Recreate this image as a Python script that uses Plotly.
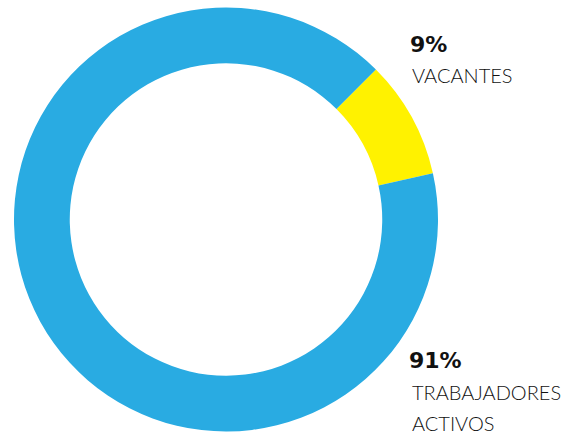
import plotly.graph_objects as go

labels = ["VACANTES", "TRABAJADORES ACTIVOS"]
values = [9, 91]
pct_labels = ["9%", "91%"]
name_lines = [["VACANTES"], ["TRABAJADORES", "ACTIVOS"]]
colors = ["#FFF200", "#29ABE2"]

W, H = 571, 434
cx, cy, R = 226, 219.5, 212

fig = go.Figure(go.Pie(
    labels=labels, values=values, sort=False, direction="clockwise",
    rotation=45, hole=0.737, textinfo="none", hoverinfo="label+percent",
    marker=dict(colors=colors, line=dict(width=0)),
    domain=dict(x=[(cx - R) / W, (cx + R) / W], y=[1 - (cy + R) / H, 1 - (cy - R) / H]),
    showlegend=False,
))

txt = "#111111"
pct_font = dict(family="DejaVu Sans", size=22, color=txt, weight=700)
lbl_font = dict(family="Lato", size=20, color=txt, weight=300)
ann = []
# 9% VACANTES
ann.append(dict(x=408 / W, y=1 - 44 / H, text=pct_labels[0], font=pct_font))
ann.append(dict(x=410 / W, y=1 - 75 / H, text=name_lines[0][0], font=lbl_font))
# 91% TRABAJADORES ACTIVOS
ann.append(dict(x=407 / W, y=1 - 360 / H, text=pct_labels[1], font=pct_font))
ann.append(dict(x=410 / W, y=1 - 392 / H, text=name_lines[1][0], font=lbl_font))
ann.append(dict(x=410 / W, y=1 - 423 / H, text=name_lines[1][1], font=lbl_font))
for a in ann:
    a.update(xref="paper", yref="paper", xanchor="left", yanchor="middle", showarrow=False)

fig.update_layout(
    width=W, height=H, margin=dict(l=0, r=0, t=0, b=0),
    paper_bgcolor="white", plot_bgcolor="white", annotations=ann,
)
fig.write_html("out.html", config={"displayModeBar": False},
               post_script="document.body.style.margin='0';document.body.style.overflow='hidden';")
